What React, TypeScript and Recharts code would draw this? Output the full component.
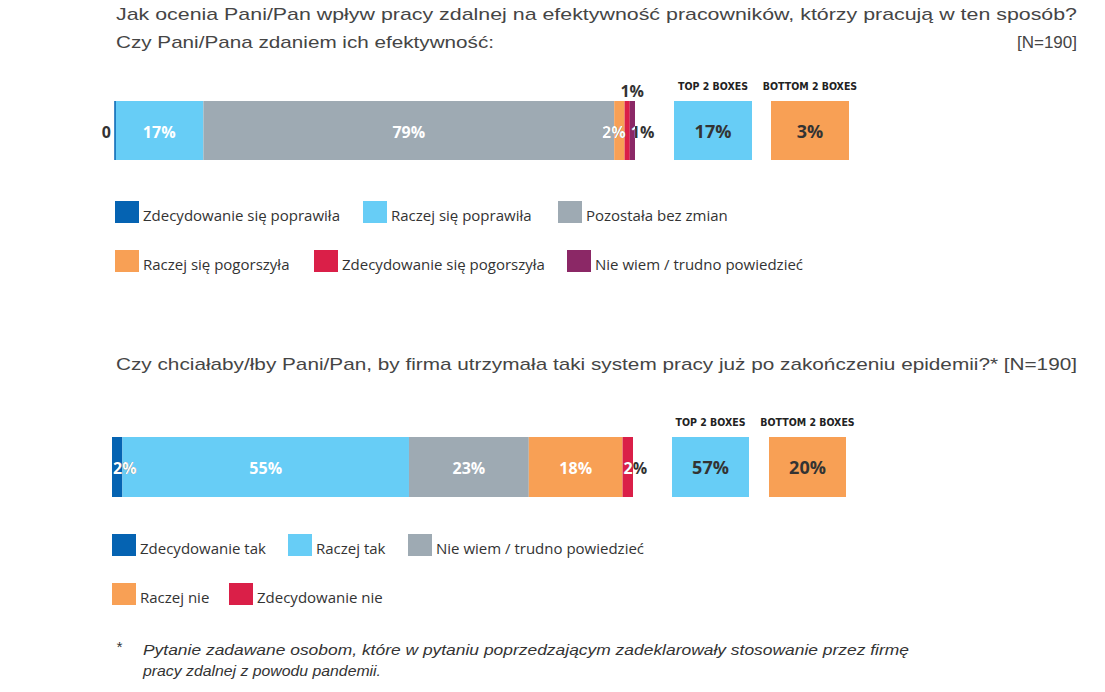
import React from 'react';
import { BarChart, Bar, XAxis, YAxis, LabelList, ReferenceLine } from 'recharts';

// ---------- DATA ----------
const q1Series = [
  'Zdecydowanie się poprawiła',
  'Raczej się poprawiła',
  'Pozostała bez zmian',
  'Raczej się pogorszyła',
  'Zdecydowanie się pogorszyła',
  'Nie wiem / trudno powiedzieć',
];
const q1Values = [0, 17, 79, 2, 1, 1];
const q1Labels = ['0', '17%', '79%', '2%', '1%', '1%'];

const q2Series = [
  'Zdecydowanie tak',
  'Raczej tak',
  'Nie wiem / trudno powiedzieć',
  'Raczej nie',
  'Zdecydowanie nie',
];
const q2Values = [2, 55, 23, 18, 2];
const q2Labels = ['2%', '55%', '23%', '18%', '2%'];

const boxHeaders = ['TOP 2 BOXES', 'BOTTOM 2 BOXES'];

const q1Title1 = 'Jak ocenia Pani/Pan wpływ pracy zdalnej na efektywność pracowników, którzy pracują w ten sposób?';
const q1Title2 = 'Czy Pani/Pana zdaniem ich efektywność:';
const nLabel = '[N=190]';
const q2Title = 'Czy chciałaby/łby Pani/Pan, by firma utrzymała taki system pracy już po zakończeniu epidemii?* [N=190]';
const footnote1 = 'Pytanie zadawane osobom, które w pytaniu poprzedzającym zadeklarowały stosowanie przez firmę';
const footnote2 = 'pracy zdalnej z powodu pandemii.';

// ---------- STYLE ----------
const C_DBLUE = '#0563B2';
const C_LBLUE = '#67CDF6';
const C_GRAY = '#9EAAB3';
const C_ORANGE = '#F8A055';
const C_RED = '#DA1F48';
const C_PURPLE = '#8B2866';

const q1Colors = [C_DBLUE, C_LBLUE, C_GRAY, C_ORANGE, C_RED, C_PURPLE];
const q2Colors = [C_DBLUE, C_LBLUE, C_GRAY, C_ORANGE, C_RED];
const q1LabelModes = ['left', 'center', 'center', 'end', 'above', 'start'];
const q2LabelModes = ['start', 'center', 'center', 'center', 'start'];

const q1LegendPos = [
  [115, 201], [363, 201], [558, 201],
  [115, 250], [314, 250], [567, 250],
];
const q2LegendPos = [
  [112, 534], [288, 534], [408, 534],
  [112, 583], [229, 583],
];

const LABEL_FONT = '"Open Sans", "DejaVu Sans", sans-serif';
const TITLE_FONT = '"Liberation Sans", Arial, sans-serif';

const M = { top: 20, right: 40, bottom: 5, left: 30 };

function makeLabel(mode: string, text: string, chartId: string, idx: number, plotW: number) {
  return (props: any) => {
    const x = Number(props.x);
    const y = Number(props.y);
    const w = Number(props.width);
    const h = Number(props.height);
    const cy = y + h / 2;
    const common = {
      fontFamily: LABEL_FONT,
      fontWeight: 700,
      fontSize: 16,
      dominantBaseline: 'central' as const,
    };
    if (mode === 'center') {
      return (
        <text x={x + w / 2} y={cy + 1} textAnchor="middle" fill="#fff" {...common}>
          {text}
        </text>
      );
    }
    if (mode === 'left') {
      return (
        <text x={x - 4} y={cy + 1} textAnchor="end" fill="#333" {...common}>
          {text}
        </text>
      );
    }
    if (mode === 'above') {
      return (
        <text x={x + w / 2 + 5} y={y - 10} textAnchor="middle" fill="#333" {...common}>
          {text}
        </text>
      );
    }
    const tx = mode === 'start' ? x + 1 : x + w + 1;
    const anchor = mode === 'start' ? 'start' : 'end';
    const id = `clip-${chartId}-${idx}`;
    return (
      <g>
        <defs>
          <clipPath id={id}>
            <rect x={M.left} y={y} width={plotW} height={h} />
          </clipPath>
        </defs>
        <text x={tx} y={cy + 1} textAnchor={anchor} fill="#333" {...common}>
          {text}
        </text>
        <text x={tx} y={cy + 1} textAnchor={anchor} fill="#fff" clipPath={`url(#${id})`} {...common}>
          {text}
        </text>
      </g>
    );
  };
}

function StackedBar(props: {
  id: string; values: number[]; labels: string[]; colors: string[]; modes: string[];
  plotW: number; barH: number; left: number; top: number; zeroLine?: boolean;
}) {
  const { id, values, labels, colors, modes, plotW, barH, left, top, zeroLine } = props;
  const row: any = { name: id };
  values.forEach((v, i) => { row['s' + i] = v; });
  const data = [row];
  return (
    <div style={{ position: 'absolute', left, top }}>
      <BarChart
        width={M.left + plotW + M.right}
        height={M.top + barH + M.bottom}
        data={data}
        layout="vertical"
        margin={M}
        barCategoryGap={0}
        barGap={0}
      >
        <XAxis type="number" domain={[0, 100]} hide />
        <YAxis type="category" dataKey="name" hide />
        {values.map((v, i) => (
          <Bar
            key={i}
            dataKey={'s' + i}
            stackId="a"
            fill={colors[i]}
            isAnimationActive={false}
            minPointSize={v === 0 ? 1 : 0}
          >
            <LabelList dataKey={'s' + i} content={makeLabel(modes[i], labels[i], id, i, plotW)} />
          </Bar>
        ))}
        {zeroLine ? <ReferenceLine x={0} stroke={colors[0]} strokeWidth={1.5} /> : null}
      </BarChart>
    </div>
  );
}

function Legend(props: { names: string[]; colors: string[]; pos: number[][] }) {
  return (
    <>
      {props.names.map((n, i) => (
        <div
          key={n + i}
          style={{
            position: 'absolute', left: props.pos[i][0], top: props.pos[i][1],
            display: 'flex', alignItems: 'flex-end', whiteSpace: 'nowrap',
          }}
        >
          <div style={{ width: 24, height: 22, background: props.colors[i] }} />
          <span
            style={{
              marginLeft: 4, fontFamily: LABEL_FONT, fontSize: 15, color: '#333',
              lineHeight: '19px', marginBottom: -2,
            }}
          >
            {n}
          </span>
        </div>
      ))}
    </>
  );
}

function Boxes(props: { values: number[]; x: number[]; top: number; h: number; w: number }) {
  const colors = [C_LBLUE, C_ORANGE];
  return (
    <>
      {props.values.map((v, i) => (
        <React.Fragment key={i}>
          <div
            style={{
              position: 'absolute', left: props.x[i] - 20, width: props.w + 40, top: props.top - 22,
              textAlign: 'center', fontFamily: '"Liberation Sans Narrow", "DejaVu Sans Condensed", sans-serif',
              fontWeight: 700, fontSize: 10.5, color: '#222', lineHeight: '14px',
            }}
          >
            {boxHeaders[i]}
          </div>
          <div
            style={{
              position: 'absolute', left: props.x[i], top: props.top, width: props.w, height: props.h,
              background: colors[i], display: 'flex', alignItems: 'center', justifyContent: 'center',
              fontFamily: LABEL_FONT, fontWeight: 700, fontSize: 18, color: '#333',
            }}
          >
            {v + '%'}
          </div>
        </React.Fragment>
      ))}
    </>
  );
}

const sum = (a: number[]) => a.reduce((s, v) => s + v, 0);

export default function App() {
  const q1Top = sum(q1Values.slice(0, 2));
  const q1Bottom = sum(q1Values.slice(3, 5));
  const q2Top = sum(q2Values.slice(0, 2));
  const q2Bottom = sum(q2Values.slice(3, 5));
  return (
    <div style={{ position: 'absolute', left: 0, top: 0, width: 1105, height: 692, background: '#fff', overflow: 'hidden' }}>
      <svg width={1105} height={692} style={{ position: 'absolute', left: 0, top: 0 }}>
        <g fontFamily={TITLE_FONT} fontSize={17} fill="#454545">
          <text x={116} y={20} textLength={961} lengthAdjust="spacingAndGlyphs">{q1Title1}</text>
          <text x={116} y={48} textLength={378} lengthAdjust="spacingAndGlyphs">{q1Title2}</text>
          <text x={1077} y={48} textAnchor="end">{nLabel}</text>
          <text x={116} y={370} textLength={961} lengthAdjust="spacingAndGlyphs">{q2Title}</text>
        </g>
        <g fontFamily={TITLE_FONT} fontSize={15} fill="#333" fontStyle="italic">
          <text x={116} y={652}>*</text>
          <text x={143} y={655} textLength={766} lengthAdjust="spacingAndGlyphs">{footnote1}</text>
          <text x={143} y={676} textLength={238} lengthAdjust="spacingAndGlyphs">{footnote2}</text>
        </g>
      </svg>

      <StackedBar id="q1" values={q1Values} labels={q1Labels} colors={q1Colors} modes={q1LabelModes}
        plotW={520} barH={59} left={115 - M.left} top={101 - M.top} zeroLine />
      <Boxes values={[q1Top, q1Bottom]} x={[674, 771]} top={101} h={59} w={78} />
      <Legend names={q1Series} colors={q1Colors} pos={q1LegendPos} />

      <StackedBar id="q2" values={q2Values} labels={q2Labels} colors={q2Colors} modes={q2LabelModes}
        plotW={521} barH={60} left={112 - M.left} top={437 - M.top} />
      <Boxes values={[q2Top, q2Bottom]} x={[672, 769]} top={437} h={60} w={77} />
      <Legend names={q2Series} colors={q2Colors} pos={q2LegendPos} />
    </div>
  );
}
